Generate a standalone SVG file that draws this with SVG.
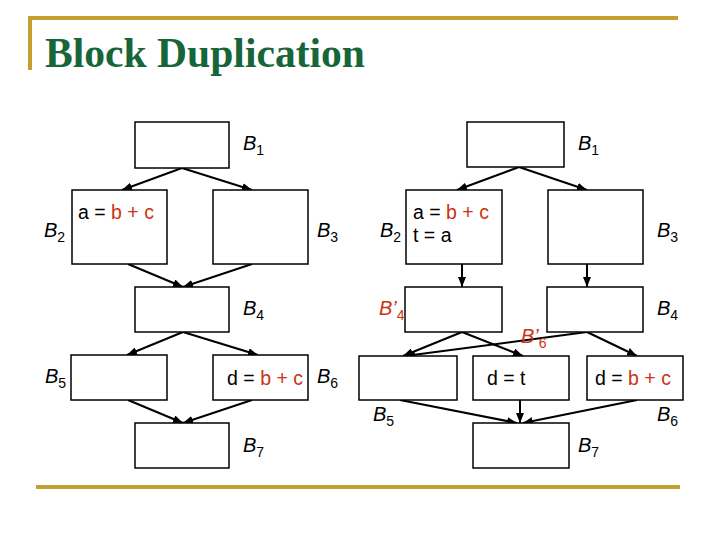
<svg xmlns="http://www.w3.org/2000/svg" width="720" height="540" viewBox="0 0 720 540">
<defs>
<marker id="ah" markerWidth="10" markerHeight="8" refX="10" refY="4" orient="auto" markerUnits="userSpaceOnUse">
<path d="M0,0 L10,4 L0,8 Z" fill="#000"/>
</marker>
<style>
.box{fill:#fff;stroke:#000;stroke-width:1.5}
.edge{stroke:#000;stroke-width:2;fill:none;marker-end:url(#ah)}
.lbl{font-family:"Liberation Sans",Arial,sans-serif;font-size:20px;fill:#000}
.lbl .i{font-style:italic}
.lbl .s{font-size:14px}
.code{font-family:"Liberation Sans",Arial,sans-serif;font-size:19.5px;fill:#000}
.red{fill:#cc3311}
.gold{stroke:#c3a030;stroke-width:4;fill:none}
</style>
</defs>
<rect width="720" height="540" fill="#fff"/>
<g id="frame">
<path class="gold" d="M30,70 V18 H678"/>
<path class="gold" d="M36,487 H680"/>
<text x="45" y="67" font-family="'Liberation Serif','Times New Roman',serif" font-weight="bold" font-size="42" fill="#17663a" textLength="320" lengthAdjust="spacingAndGlyphs">Block Duplication</text>
</g>
<g id="connectors">
<line class="edge" x1="182" y1="168" x2="122" y2="190"/>
<line class="edge" x1="182" y1="168" x2="252" y2="190"/>
<line class="edge" x1="128" y1="264" x2="183" y2="287"/>
<line class="edge" x1="252" y1="264" x2="183" y2="287"/>
<line class="edge" x1="183" y1="332" x2="127" y2="355"/>
<line class="edge" x1="183" y1="332" x2="258" y2="355"/>
<line class="edge" x1="128" y1="400" x2="183" y2="423"/>
<line class="edge" x1="252" y1="400" x2="183" y2="423"/>
<line class="edge" x1="519" y1="167" x2="457" y2="190"/>
<line class="edge" x1="519" y1="167" x2="587" y2="190"/>
<line class="edge" x1="462" y1="264" x2="462" y2="287"/>
<line class="edge" x1="587" y1="264" x2="587" y2="287"/>
<line class="edge" x1="462" y1="332" x2="403" y2="356"/>
<line class="edge" x1="462" y1="332" x2="523" y2="356"/>
<line class="edge" x1="587" y1="332" x2="405" y2="356"/>
<line class="edge" x1="587" y1="332" x2="637" y2="356"/>
<line class="edge" x1="400" y1="400" x2="517" y2="423"/>
<line class="edge" x1="520" y1="400" x2="520" y2="423"/>
<line class="edge" x1="637" y1="400" x2="523" y2="423"/>
</g>
<g id="L_B1"><rect class="box" x="135" y="122" width="94" height="46"/><text class="lbl" x="243" y="150"><tspan class="i">B</tspan><tspan class="s" dy="5">1</tspan></text></g>
<g id="L_B2"><rect class="box" x="72" y="190" width="95" height="74"/><text class="lbl" x="44" y="237"><tspan class="i">B</tspan><tspan class="s" dy="5">2</tspan></text><text class="code" x="78" y="219">a = <tspan class="red">b + c</tspan></text></g>
<g id="L_B3"><rect class="box" x="213" y="190" width="95" height="74"/><text class="lbl" x="317" y="237"><tspan class="i">B</tspan><tspan class="s" dy="5">3</tspan></text></g>
<g id="L_B4"><rect class="box" x="135" y="287" width="94" height="45"/><text class="lbl" x="243" y="315"><tspan class="i">B</tspan><tspan class="s" dy="5">4</tspan></text></g>
<g id="L_B5"><rect class="box" x="71" y="355" width="96" height="45"/><text class="lbl" x="45" y="383"><tspan class="i">B</tspan><tspan class="s" dy="5">5</tspan></text></g>
<g id="L_B6"><rect class="box" x="213" y="355" width="95" height="45"/><text class="lbl" x="317" y="383"><tspan class="i">B</tspan><tspan class="s" dy="5">6</tspan></text><text class="code" x="303" y="385" text-anchor="end">d = <tspan class="red">b + c</tspan></text></g>
<g id="L_B7"><rect class="box" x="135" y="423" width="94" height="45"/><text class="lbl" x="243" y="452"><tspan class="i">B</tspan><tspan class="s" dy="5">7</tspan></text></g>
<g id="R_B1"><rect class="box" x="467" y="122" width="97" height="45"/><text class="lbl" x="578" y="150"><tspan class="i">B</tspan><tspan class="s" dy="5">1</tspan></text></g>
<g id="R_B2"><rect class="box" x="406" y="190" width="96" height="74"/><text class="lbl" x="380" y="237"><tspan class="i">B</tspan><tspan class="s" dy="5">2</tspan></text><text class="code" x="413" y="219">a = <tspan class="red">b + c</tspan></text><text class="code" x="413" y="242">t = a</text></g>
<g id="R_B3"><rect class="box" x="548" y="190" width="95" height="74"/><text class="lbl" x="657" y="237"><tspan class="i">B</tspan><tspan class="s" dy="5">3</tspan></text></g>
<g id="R_B4p"><rect class="box" x="405" y="287" width="97" height="45"/><text class="lbl red" x="379" y="315"><tspan class="i">B’</tspan><tspan class="s" dy="5">4</tspan></text></g>
<g id="R_B4"><rect class="box" x="547" y="287" width="96" height="45"/><text class="lbl" x="657" y="315"><tspan class="i">B</tspan><tspan class="s" dy="5">4</tspan></text></g>
<g id="R_B6p"><text class="lbl red" x="521" y="343"><tspan class="i">B’</tspan><tspan class="s" dy="5">6</tspan></text></g>
<g id="R_B5"><rect class="box" x="359" y="356" width="98" height="44"/><text class="lbl" x="373" y="421"><tspan class="i">B</tspan><tspan class="s" dy="5">5</tspan></text></g>
<g id="R_mid"><rect class="box" x="473" y="356" width="96" height="44"/><text class="code" x="487" y="385">d = t</text></g>
<g id="R_B6"><rect class="box" x="587" y="356" width="96" height="44"/><text class="lbl" x="657" y="421"><tspan class="i">B</tspan><tspan class="s" dy="5">6</tspan></text><text class="code" x="595" y="385">d = <tspan class="red">b + c</tspan></text></g>
<g id="R_B7"><rect class="box" x="473" y="423" width="96" height="45"/><text class="lbl" x="578" y="452"><tspan class="i">B</tspan><tspan class="s" dy="5">7</tspan></text></g>
</svg>
